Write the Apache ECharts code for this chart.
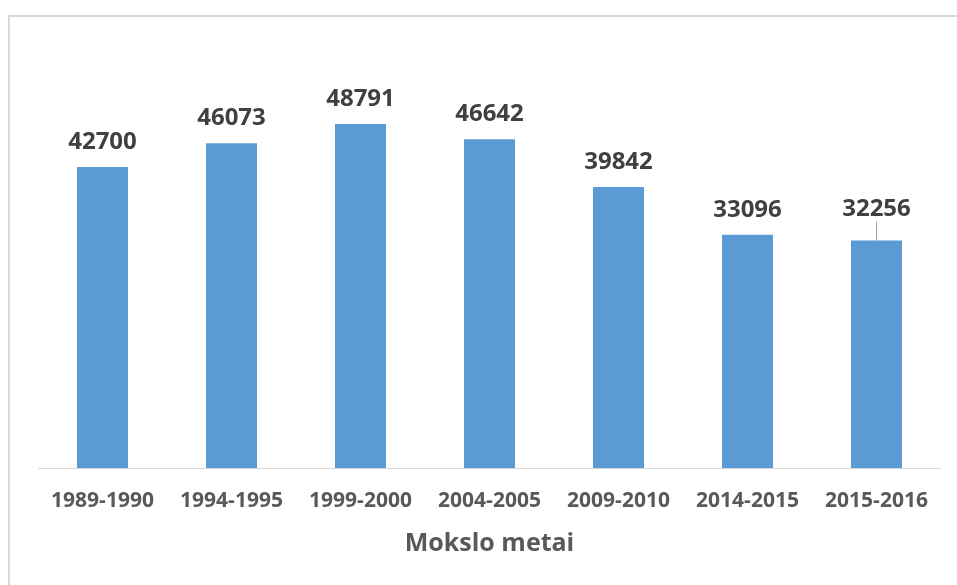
<!DOCTYPE html>
<html>
<head>
<meta charset="utf-8">
<script src="https://cdn.jsdelivr.net/npm/echarts@6/dist/echarts.min.js"></script>
<style>
html,body{margin:0;padding:0;background:#fff;overflow:hidden;}
#frame{position:absolute;left:8px;top:15px;width:1100px;height:800px;border:2px solid #d9d9d9;box-sizing:border-box;}
#chart{position:absolute;left:0;top:0;width:957px;height:585px;}
</style>
</head>
<body>
<div id="frame"></div>
<div id="chart"></div>
<script>
const categories = ['1989-1990','1994-1995','1999-2000','2004-2005','2009-2010','2014-2015','2015-2016'];
const values = [42700, 46073, 48791, 46642, 39842, 33096, 32256];
const axisTitle = 'Mokslo metai';

const chart = echarts.init(document.getElementById('chart'), null, {renderer:'canvas'});
const data = values.map((v, i) => i === values.length - 1
  ? {value: v, labelLine: {show: true, lineStyle: {color: '#a6a6a6', width: 1}}}
  : v);
chart.setOption({
  animation: false,
  grid: {left: 38, right: 16, top: 45, bottom: 117},
  xAxis: {
    type: 'category',
    data: categories,
    name: axisTitle,
    nameLocation: 'middle',
    nameGap: 63,
    nameTextStyle: {fontFamily: 'Open Sans', fontSize: 25, fontWeight: 'bold', color: '#595959'},
    axisLine: {lineStyle: {color: '#d9d9d9', width: 1}},
    axisTick: {show: false},
    axisLabel: {fontFamily: 'Open Sans', fontSize: 21, fontWeight: 'bold', color: '#595959', margin: 23, interval: 0}
  },
  yAxis: {
    type: 'value', min: 0, max: 60000, interval: 10000,
    show: false,
    splitLine: {show: false}
  },
  series: [{
    type: 'bar',
    data: data,
    barWidth: 51,
    itemStyle: {color: '#5b9bd5'},
    label: {
      show: true, position: 'top', distance: 13,
      fontFamily: 'Open Sans', fontSize: 24, fontWeight: 'bold', color: '#404040'
    },
    labelLayout: function (p) {
      return p.dataIndex === values.length - 1 ? {dy: -6} : {};
    }
  }]
});
</script>
</body>
</html>
